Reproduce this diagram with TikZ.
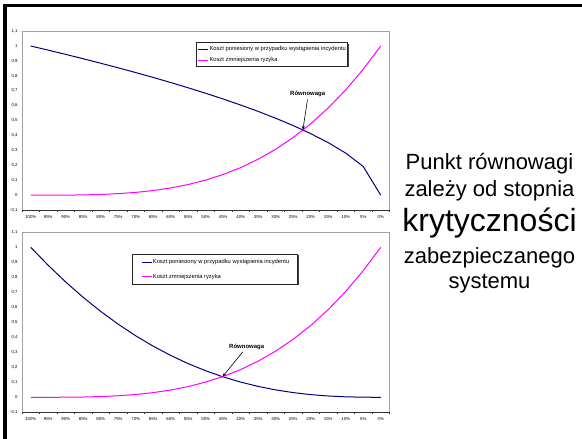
\documentclass[tikz,border=0pt]{standalone}
\usepackage{fontspec}
\setmainfont{Liberation Sans}
\usetikzlibrary{arrows.meta}
\definecolor{costblue}{RGB}{0,0,128}
\definecolor{riskpink}{RGB}{255,0,255}
\definecolor{areagray}{RGB}{160,160,160}

\tikzset{
  areaframe/.style={draw=areagray, line width=0.8pt},
  xaxisline/.style={draw=black!80, line width=0.6pt},
  ylab/.style={anchor=east, inner sep=0pt, font=\fontsize{4.3}{5}\selectfont},
  xlab/.style={anchor=center, inner sep=0pt, font=\fontsize{4.3}{5}\selectfont},
  costline/.style={draw=costblue, line width=1pt, line join=round},
  riskline/.style={draw=riskpink, line width=1pt, line join=round},
  legtext/.style={anchor=west, inner sep=0pt, font=\fontsize{5.8}{7}\selectfont},
  eqlabel/.style={inner sep=1pt, font=\fontsize{6}{7}\selectfont\bfseries},
  eqarrow/.style={-{Stealth[length=4pt,width=2.8pt]}, line width=0.6pt, shorten <=1.5pt},
  sidetext/.style={anchor=base, inner sep=0pt, font=\fontsize{22}{26}\selectfont},
}

% axes, labels and tick marks of one chart, in data units
\newcommand{\chartframe}[1]{%
  \draw[areaframe] (-0.5,-0.1) -- (-0.5,1.1) -- (20.5,1.1) -- (20.5,-0.1);
  \draw[xaxisline] (-0.5,-0.1) -- (20.5,-0.1);
  \foreach \k in {0,...,21} \draw[xaxisline] (\k-0.5,-0.1) -- ++(0,-2pt);
  \foreach \v/\t [count=\n] in {1.1/{1,1},1/1,0.9/{0,9},0.8/{0,8},0.7/{0,7},0.6/{0,6},
      0.5/{0,5},0.4/{0,4},0.3/{0,3},0.2/{0,2},0.1/{0,1},0/0,-0.1/{-0,1}}
    \node[ylab] (ty#1\n) at (-0.5,\v) [xshift=-4.2pt] {\t};
  \foreach \i in {0,...,20} {
    \pgfmathtruncatemacro\pct{100-5*\i}
    \node[xlab] (tx#1\i) at (\i,-0.1) [yshift=-6.6pt] {\pct\%};
  }
}

\begin{document}
\begin{tikzpicture}[x=1pt,y=-1pt]
\useasboundingbox (0,0) rectangle (582,439);
\fill[white] (0,0) rectangle (582,439);

% slide frame
\fill[black] (3.3,4) rectangle (582,7.3);
\fill[black] (3.3,4) rectangle (6.7,439);

% ---------- upper chart ----------
\begin{scope}[shift={(30.75,195.2)}, x=17.5pt, y=149.2pt]
  \chartframe{A}
  \draw[costline] plot coordinates {(0,1) (1,0.9722) (2,0.9437) (3,0.9145) (4,0.8845)
    (5,0.8537) (6,0.8219) (7,0.7891) (8,0.7551) (9,0.7198) (10,0.6830) (11,0.6446)
    (12,0.6041) (13,0.5614) (14,0.5157) (15,0.4665) (16,0.4126) (17,0.3522)
    (18,0.2818) (19,0.1925) (20,0)};
  \draw[riskline] plot coordinates {(0,0) (1,0.0001) (2,0.0005) (3,0.0019) (4,0.0049)
    (5,0.0103) (6,0.0188) (7,0.0313) (8,0.0486) (9,0.0717) (10,0.1015) (11,0.1391)
    (12,0.1853) (13,0.2413) (14,0.3082) (15,0.3870) (16,0.4789) (17,0.5849)
    (18,0.7063) (19,0.8443) (20,1)};
  \coordinate (eqA) at (15.55,0.437);
\end{scope}

% legend of the upper chart
\fill[black!75] (197.3,43.6) rectangle (348.6,67.3);
\draw[fill=white, draw=black!85, line width=0.7pt] (196,42.3) rectangle (347.3,66);
\draw[costline] (198,49.3) -- (208,49.3);
\node[legtext] (lgtA1) at (209.3,49.3) {Koszt poniesiony w przypadku wystąpienia incydentu};
\draw[riskline] (198,60) -- (208,60);
\node[legtext] (lgtA2) at (209.3,60) {Koszt zmniejszenia ryzyka};

\node[eqlabel] (rA) at (307.7,94) {Równowaga};
\draw[eqarrow] (rA.south) -- (eqA);

% ---------- lower chart ----------
\begin{scope}[shift={(30.75,397.3)}, x=17.5pt, y=150pt]
  \chartframe{B}
  \draw[costline] plot coordinates {(0,1) (1,0.8797) (2,0.7684) (3,0.6661) (4,0.5724)
    (5,0.4871) (6,0.4100) (7,0.3406) (8,0.2789) (9,0.2243) (10,0.1768) (11,0.1358)
    (12,0.1012) (13,0.0725) (14,0.0493) (15,0.0313) (16,0.0179) (17,0.0087)
    (18,0.0032) (19,0.0006) (20,0)};
  \draw[riskline] plot coordinates {(0,0) (1,0.0001) (2,0.0005) (3,0.0019) (4,0.0049)
    (5,0.0103) (6,0.0188) (7,0.0313) (8,0.0486) (9,0.0717) (10,0.1015) (11,0.1391)
    (12,0.1853) (13,0.2413) (14,0.3082) (15,0.3870) (16,0.4789) (17,0.5849)
    (18,0.7063) (19,0.8443) (20,1)};
  \coordinate (eqB) at (10.96,0.1375);
\end{scope}

% legend of the lower chart
\fill[black!75] (134,255.3) rectangle (299,285.3);
\draw[fill=white, draw=black!85, line width=0.7pt] (132.7,254) rectangle (297.7,284);
\draw[costline] (141.7,262.3) -- (151.7,262.3);
\node[legtext] (lgtB1) at (152.7,262.3) {Koszt poniesiony w przypadku wystąpienia incydentu};
\draw[riskline] (141.7,276.7) -- (151.7,276.7);
\node[legtext] (lgtB2) at (152.7,276.7) {Koszt zmniejszenia ryzyka};

\node[eqlabel] (rB) at (246.7,346.7) {Równowaga};
\coordinate (rBs) at ([xshift=-3pt]rB.south);
\draw[eqarrow] (rBs) -- (eqB);

% ---------- side text ----------
\node[sidetext] (s1) at (489.5,169) {Punkt równowagi};
\node[sidetext] (s2) at (489.5,196.7) {zależy od stopnia};
\node[sidetext, font=\fontsize{32}{36}\selectfont] (s3) at (489.5,231.7) {krytyczności};
\node[sidetext] (s4) at (489.5,263.3) {zabezpieczanego};
\node[sidetext] (s5) at (489.5,288.3) {systemu};
\end{tikzpicture}
\end{document}
